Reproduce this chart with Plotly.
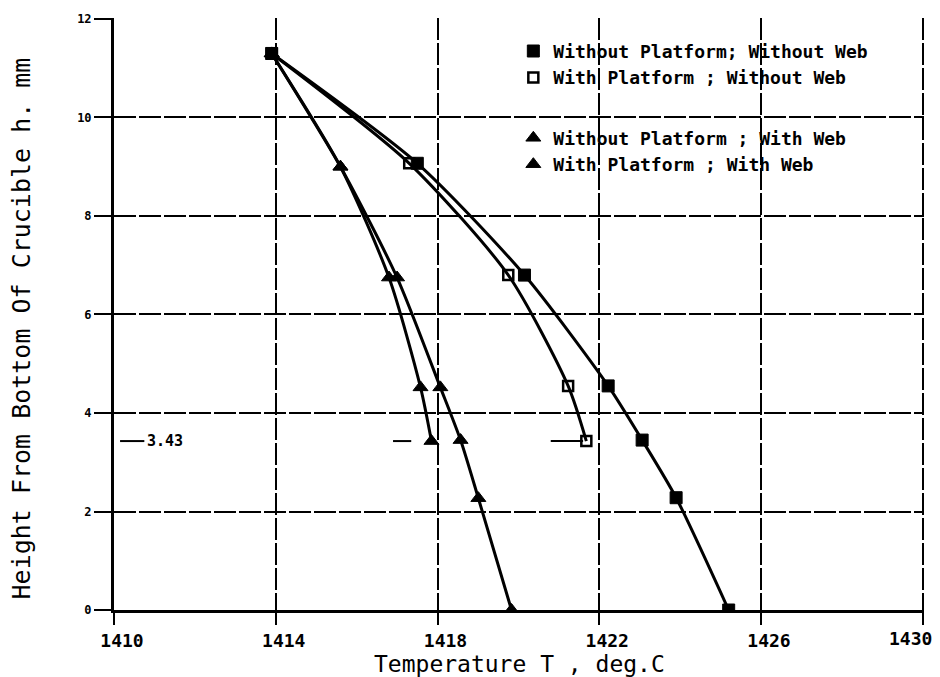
import plotly.graph_objects as go

# Temperature profiles (deg C) against height from crucible bottom (mm)
h_no_plat_no_web = [11.3, 9.07, 6.8, 4.55, 3.45, 2.28, 0.0]
t_no_plat_no_web = [1413.9, 1417.5, 1420.15, 1422.22, 1423.06, 1423.9, 1425.2]

h_plat_no_web = [11.3, 9.07, 6.8, 4.55, 3.43]
t_plat_no_web = [1413.9, 1417.3, 1419.75, 1421.23, 1421.68]

h_no_plat_web = [11.3, 9.0, 6.75, 4.52, 3.45, 2.27, 0.0]
t_no_plat_web = [1413.9, 1415.6, 1417.0, 1418.07, 1418.57, 1419.01, 1419.83]

h_plat_web = [11.3, 9.0, 6.75, 4.52, 3.43]
t_plat_web = [1413.9, 1415.6, 1416.8, 1417.58, 1417.85]

labels = [
    "Without Platform; Without Web",
    "With Platform ; Without Web",
    "Without Platform ; With Web",
    "With Platform ; With Web",
]

platform_h = 3.43
platform_label = "3.43"
# short leader dashes marking the platform level
platform_dashes = [(1410.15, 1410.75), (1416.9, 1417.35), (1420.8, 1421.6)]

x_ticks = [1410, 1414, 1418, 1422, 1426, 1430]
y_ticks = [0, 2, 4, 6, 8, 10, 12]

BLACK = "#000000"
MONO = "DejaVu Sans Mono"
TICK_FONT = dict(family=MONO, size=18, color=BLACK, weight="bold")

fig = go.Figure()

styles = [
    dict(symbol="square", size=12, color=BLACK, line=dict(color=BLACK, width=1)),
    dict(symbol="square-open", size=10, color=BLACK, line=dict(color=BLACK, width=2.5)),
    dict(symbol="triangle-up", size=13, color=BLACK, line=dict(color=BLACK, width=1)),
    dict(symbol="triangle-up", size=13, color=BLACK, line=dict(color=BLACK, width=1)),
]
series = [
    (t_no_plat_no_web, h_no_plat_no_web),
    (t_plat_no_web, h_plat_no_web),
    (t_no_plat_web, h_no_plat_web),
    (t_plat_web, h_plat_web),
]
groups = ["sq", "sq", "tri", "tri"]

for (t, h), st, name in zip(series, styles, labels):
    fig.add_trace(go.Scatter(
        x=t, y=h, mode="lines+markers", name=name, showlegend=False,
        line=dict(color=BLACK, width=3, shape="spline", smoothing=0.7),
        marker=st,
    ))

# legend entries show the symbol only
for st, name, grp in zip(styles, labels, groups):
    fig.add_trace(go.Scatter(
        x=[None], y=[None], mode="markers", name=name, legendgroup=grp,
        marker=st,
    ))

for x0, x1 in platform_dashes:
    fig.add_shape(type="line", xref="x", yref="y", x0=x0, x1=x1,
                  y0=platform_h, y1=platform_h,
                  line=dict(color=BLACK, width=2))

fig.add_annotation(x=platform_dashes[0][1], y=platform_h, xref="x", yref="y",
                   text=platform_label, showarrow=False, xanchor="left",
                   xshift=1, font=dict(family=MONO, size=15, color=BLACK,
                                       weight="bold"))

axis_common = dict(
    showline=True, linecolor=BLACK, linewidth=3,
    showgrid=True, gridcolor=BLACK, gridwidth=2, griddash="22px,3px",
    ticks="outside", tickcolor=BLACK, tickwidth=2,
    zeroline=False, mirror=False, automargin=False,
)

# the last x label is placed separately, right-aligned at the page edge
x_ticktext = [str(v) for v in x_ticks[:-1]] + [""]

# ranges nudged just past the last tick so the outer grid lines are drawn
fig.update_xaxes(range=[1410, 1430.03], tickvals=x_ticks, ticktext=x_ticktext,
                 ticklen=12, ticklabelshift=8, tickfont=TICK_FONT,
                 **axis_common)
fig.update_yaxes(range=[0, 12.02], tickvals=y_ticks, ticklen=17,
                 tickfont=dict(family=MONO, size=12, color=BLACK, weight="bold"),
                 **axis_common)

fig.add_annotation(x=x_ticks[-1], y=0, xref="x", yref="paper",
                   text=str(x_ticks[-1]), showarrow=False,
                   xanchor="right", yanchor="top", xshift=11, yshift=-16,
                   font=TICK_FONT)

fig.add_annotation(text="Temperature T , deg.C", xref="paper", yref="paper",
                   x=0.5, y=-0.091, showarrow=False, yanchor="middle",
                   font=dict(family=MONO, size=23, color=BLACK))
fig.add_annotation(text="Height From Bottom Of Crucible h. mm", xref="paper",
                   yref="paper", x=-0.114, y=0.475, showarrow=False,
                   textangle=-90, xanchor="center", yanchor="middle",
                   font=dict(family=MONO, size=25, color=BLACK))

fig.update_layout(
    width=940, height=677,
    margin=dict(l=114, r=16, t=18, b=67),
    paper_bgcolor="white", plot_bgcolor="white",
    legend=dict(x=0.493, y=0.975, xanchor="left", yanchor="top",
                bgcolor="rgba(0,0,0,0)", tracegroupgap=34,
                font=dict(family=MONO, size=18, color=BLACK, weight="bold")),
)

fig.write_html("out.html")
